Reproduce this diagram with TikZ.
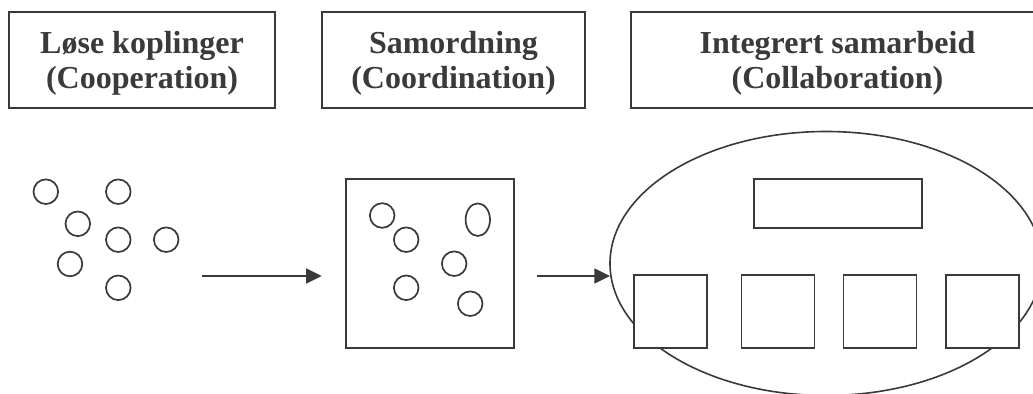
\documentclass[tikz,border=0pt]{standalone}
\usepackage{fontspec}
\setmainfont{Liberation Serif}
\usetikzlibrary{shapes.geometric,arrows.meta}
\definecolor{ink}{RGB}{58,58,60}
\tikzset{
  titlebox/.style={draw=ink, line width=1pt, fill=white, minimum height=48pt, inner sep=0pt},
  titletext/.style={align=center, text=ink, inner sep=0pt, yshift=-1.5pt,
    font=\bfseries\fontsize{16}{17.5}\selectfont},
  dot/.style={circle, draw=ink, line width=0.85pt, minimum size=12.3pt, inner sep=0pt},
  frame/.style={draw=ink, line width=0.95pt, fill=white, inner sep=0pt},
  flow/.style={draw=ink, line width=0.8pt, -{Triangle[length=7.8pt,width=7.5pt]}},
}
\begin{document}
\begin{tikzpicture}[x=0.5pt,y=-0.5pt]
\clip (0,0) rectangle (1033,394);
\fill[white] (0,0) rectangle (1033,394);
% title boxes
\node[titlebox, minimum width=133pt, label={[titletext]center:Løse koplinger\\(Cooperation)}] (t1) at (142,60) {};
\node[titlebox, minimum width=131.5pt, label={[titletext]center:Samordning\\(Coordination)}] (t2) at (453.5,60) {};
\node[titlebox, minimum width=206.5pt, label={[titletext]center:Integrert samarbeid\\(Collaboration)}] (t3) at (837.5,60) {};
% loose circles
\node[dot] (c1) at (45.8,191.7) {};
\node[dot] (c2) at (118.3,191.7) {};
\node[dot] (c3) at (77.8,223.8) {};
\node[dot] (c4) at (118.3,239.7) {};
\node[dot] (c5) at (166.2,239.7) {};
\node[dot] (c6) at (70,264) {};
\node[dot] (c7) at (118.3,287.8) {};
% coordination square
\node[frame, minimum width=84.3pt, minimum height=84.2pt] (sq) at (430,263.5) {};
\node[dot] (d1) at (382.2,215.5) {};
\node[dot] (d2) at (406.2,239.7) {};
\node[ellipse, draw=ink, line width=0.85pt, minimum width=12.2pt, minimum height=16.3pt, inner sep=0pt] (d3) at (477.8,219.7) {};
\node[dot] (d4) at (454.2,263.7) {};
\node[dot] (d5) at (406.2,287.8) {};
\node[dot] (d6) at (470.2,303.7) {};
% collaboration ellipse
\node[ellipse, draw=ink, line width=0.8pt, minimum width=216pt, minimum height=132pt, inner sep=0pt] (big) at (826,263.5) {};
\node[frame, minimum width=84.15pt, minimum height=24.2pt] (top) at (838.2,203.5) {};
\node[frame, minimum width=36.5pt, minimum height=36.5pt] (u1) at (670.2,311.8) {};
\node[frame, minimum width=36.5pt, minimum height=36.5pt] (u2) at (778,311.8) {};
\node[frame, minimum width=36.5pt, minimum height=36.5pt] (u3) at (880,311.8) {};
\node[frame, minimum width=36.5pt, minimum height=36.5pt] (u4) at (982.2,311.8) {};
% arrows
\coordinate (a1s) at (201.7,276);
\coordinate (a1e) at (321.7,276);
\coordinate (a2s) at (537.3,276);
\coordinate (a2e) at (610,276);
\draw[flow] (a1s) -- (a1e);
\draw[flow] (a2s) -- (a2e);
\end{tikzpicture}
\end{document}
